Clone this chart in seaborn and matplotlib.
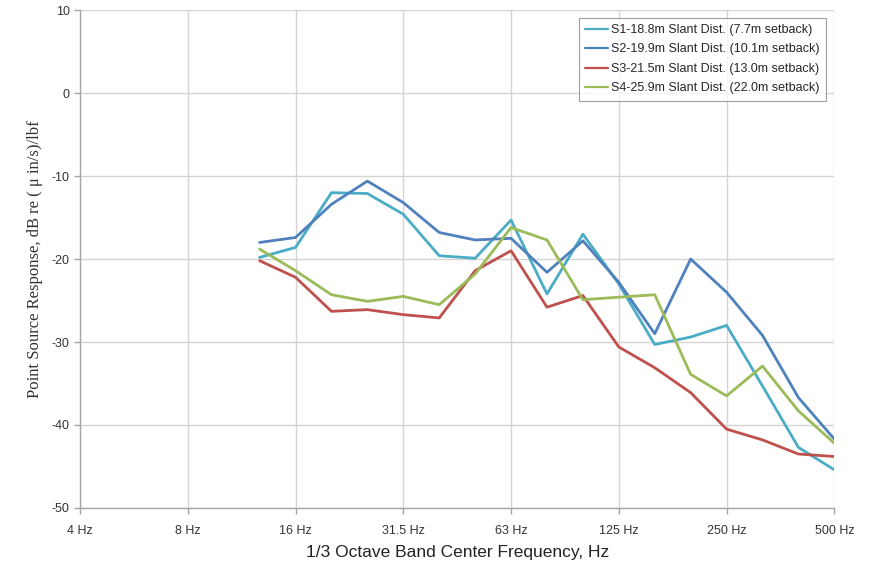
#!/usr/bin/env python
# encoding: utf-8

import pandas as pd
import matplotlib
matplotlib.use('Agg')
import matplotlib.pyplot as plt
import seaborn as sns

# full list of 1/3 octave band centres shown on the axis (4 Hz .. 500 Hz)
ALL_BANDS = ['4', '5', '6.3', '8', '10', '12.5', '16', '20', '25', '31.5', '40',
             '50', '63', '80', '100', '125', '160', '200', '250', '315', '400', '500']

# bands that carry data
bands = ['12.5', '16', '20', '25', '31.5', '40', '50', '63', '80', '100',
         '125', '160', '200', '250', '315', '400', '500']

tick_bands = ['4', '8', '16', '31.5', '63', '125', '250', '500']

s1 = [-19.8, -18.6, -12.0, -12.1, -14.6, -19.6, -19.9, -15.3, -24.2, -17.0,
      -23.0, -30.3, -29.4, -28.0, -35.3, -42.7, -45.4]
s2 = [-18.0, -17.4, -13.4, -10.6, -13.2, -16.8, -17.7, -17.5, -21.6, -17.8,
      -22.8, -29.0, -20.0, -24.0, -29.2, -36.7, -41.7]
s3 = [-20.2, -22.2, -26.3, -26.1, -26.7, -27.1, -21.4, -19.0, -25.8, -24.4,
      -30.6, -33.1, -36.1, -40.5, -41.8, -43.5, -43.8]
s4 = [-18.8, -21.4, -24.3, -25.1, -24.5, -25.5, -21.8, -16.2, -17.7, -24.9,
      -24.6, -24.3, -33.9, -36.5, -32.9, -38.3, -42.2]

series_names = ['S1-18.8m Slant Dist. (7.7m setback)',
                'S2-19.9m Slant Dist. (10.1m setback)',
                'S3-21.5m Slant Dist. (13.0m setback)',
                'S4-25.9m Slant Dist. (22.0m setback)']
colors = ['#4BACC6', '#4F81BD', '#C0504D', '#9BBB59']


def build_df():
    rows = []
    for name, vals in zip(series_names, [s1, s2, s3, s4]):
        for b, v in zip(bands, vals):
            rows.append({'pos': ALL_BANDS.index(b), 'value': v, 'series': name})
    return pd.DataFrame(rows)


def main():
    df = build_df()

    sns.set_theme(style='white')
    plt.rcParams['font.family'] = ['Liberation Sans', 'DejaVu Sans']
    plt.rcParams['axes.unicode_minus'] = False

    fig = plt.figure(figsize=(8.7, 5.65), dpi=100)
    ax = fig.add_axes([0.092, 0.101, 0.867, 0.881])

    sns.lineplot(data=df, x='pos', y='value', hue='series', palette=colors,
                 linewidth=2, ax=ax, sort=False)

    ax.set_xlim(0, len(ALL_BANDS) - 1)
    ax.set_ylim(-50, 10)
    ax.set_xticks([ALL_BANDS.index(b) for b in tick_bands])
    ax.set_xticklabels([b + ' Hz' for b in tick_bands])
    ax.set_yticks(range(-50, 11, 10))
    ax.grid(True, color='#d4d4d4', linewidth=1)
    ax.set_axisbelow(True)

    for side in ['top', 'right']:
        ax.spines[side].set_visible(False)
    for side in ['left', 'bottom']:
        ax.spines[side].set_color('#a6a6a6')
        ax.spines[side].set_linewidth(1)

    ax.tick_params(axis='both', which='major', labelsize=9, colors='#a6a6a6',
                   length=4, direction='out', width=1, bottom=True, left=True)
    ax.tick_params(axis='x', pad=8)
    for lab in ax.get_xticklabels() + ax.get_yticklabels():
        lab.set_color('#333333')

    ax.set_xlabel('1/3 Octave Band Center Frequency, Hz', fontsize=12.5,
                  color='#222222', labelpad=6)
    ax.set_ylabel('Point Source Response, dB re ( \u03bc in/s)/lbf', fontsize=12,
                  family=['Liberation Serif', 'DejaVu Serif'], color='#333333', labelpad=6)

    leg = ax.legend(loc='upper right', bbox_to_anchor=(0.989, 0.985), fontsize=9,
                    frameon=True, fancybox=False, edgecolor='#888888',
                    handlelength=1.8, handletextpad=0.3, borderpad=0.5,
                    labelspacing=0.6, borderaxespad=0)
    leg.get_frame().set_linewidth(0.8)
    for line in leg.get_lines():
        line.set_linewidth(1.6)

    plt.savefig('out.png', dpi=100)


if __name__ == '__main__':
    main()
